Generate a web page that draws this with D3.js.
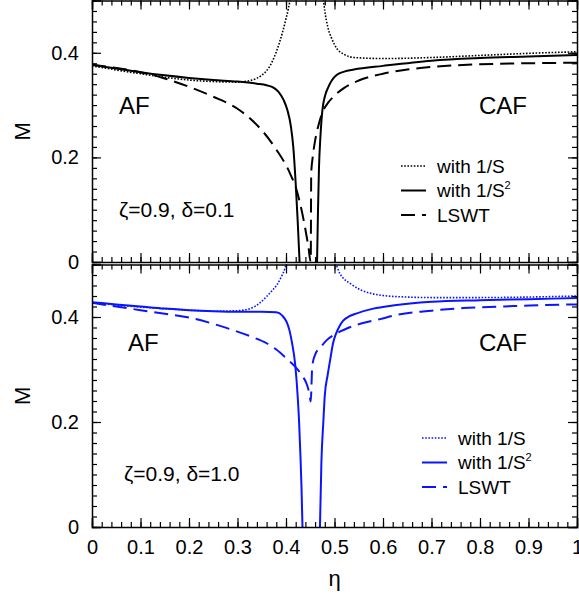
<!DOCTYPE html>
<html>
<head>
<meta charset="utf-8">
<script src="https://cdn.jsdelivr.net/npm/d3@7"></script>
<style>
  body { margin: 0; background: #fff; }
  svg { display: block; font-family: "Liberation Sans", Arial, sans-serif; }
</style>
</head>
<body>
<svg width="579" height="594"></svg>
<script>
// top panel: zeta=0.9, delta=0.1 (black); [eta, M], null = break
const topS1 = [[0,0.375],[0.1,0.36],[0.2,0.348],[0.25,0.345],[0.3,0.344],[0.33,0.348],[0.35,0.357],[0.365,0.372],[0.375,0.39],[0.385,0.415],[0.393,0.44],[0.4,0.465],[0.405,0.485],[0.412,0.52],null,
  [0.475,0.52],[0.48,0.48],[0.486,0.45],[0.494,0.428],[0.505,0.408],[0.52,0.397],[0.54,0.391],[0.6,0.389],[0.7,0.391],[0.8,0.395],[0.9,0.399],[1.0,0.402]];
const topS2 = [[0,0.377],[0.05,0.370],[0.1,0.363],[0.15,0.357],[0.2,0.352],[0.25,0.348],[0.3,0.345],[0.34,0.341],[0.36,0.338],[0.375,0.333],[0.385,0.325],[0.395,0.31],[0.403,0.29],[0.41,0.26],[0.415,0.22],[0.42,0.15],[0.424,0.08],[0.427,0.02],[0.428,0],null,
  [0.464,0],[0.466,0.1],[0.468,0.18],[0.471,0.24],[0.475,0.29],[0.48,0.316],[0.487,0.334],[0.495,0.348],[0.505,0.358],[0.52,0.364],[0.54,0.368],[0.6,0.375],[0.7,0.385],[0.8,0.39],[0.9,0.393],[1.0,0.396]];
const topLswt = [[0,0.377],[0.05,0.371],[0.1,0.363],[0.15,0.351],[0.2,0.335],[0.25,0.316],[0.3,0.293],[0.33,0.271],[0.35,0.252],[0.38,0.215],[0.408,0.17],[0.422,0.137],[0.436,0.082],[0.446,0.03],[0.451,0],
  [0.452,0.17],[0.455,0.2],[0.46,0.232],[0.468,0.265],[0.477,0.29],[0.488,0.306],[0.5,0.318],[0.52,0.333],[0.55,0.347],[0.6,0.36],[0.65,0.368],[0.7,0.373],[0.8,0.378],[0.9,0.38],[1.0,0.381]];

// bottom panel: zeta=0.9, delta=1.0 (blue)
const botS1 = [[0,0.427],[0.1,0.419],[0.2,0.413],[0.25,0.411],[0.3,0.412],[0.326,0.416],[0.345,0.426],[0.36,0.439],[0.372,0.451],[0.381,0.461],[0.39,0.476],[0.398,0.493],[0.404,0.515],null,
  [0.499,0.515],[0.506,0.494],[0.511,0.483],[0.518,0.474],[0.532,0.464],[0.553,0.452],[0.575,0.445],[0.6,0.441],[0.65,0.438],[0.7,0.437],[0.8,0.437],[0.9,0.438],[1.0,0.44]];
const botS2 = [[0,0.428],[0.05,0.424],[0.1,0.42],[0.15,0.416],[0.2,0.413],[0.25,0.411],[0.3,0.41],[0.35,0.41],[0.38,0.409],[0.392,0.403],[0.401,0.391],[0.407,0.375],[0.412,0.353],[0.419,0.309],[0.424,0.25],[0.427,0.2],[0.43,0.13],[0.432,0.074],[0.434,0],null,
  [0.47,0],[0.473,0.124],[0.477,0.2],[0.48,0.251],[0.486,0.29],[0.491,0.318],[0.497,0.35],[0.503,0.368],[0.51,0.382],[0.518,0.393],[0.53,0.401],[0.546,0.407],[0.58,0.416],[0.62,0.422],[0.7,0.429],[0.8,0.432],[0.9,0.434],[1.0,0.436]];
const botLswt = [[0,0.427],[0.05,0.42],[0.1,0.413],[0.15,0.406],[0.2,0.399],[0.25,0.387],[0.291,0.375],[0.33,0.362],[0.36,0.35],[0.38,0.338],[0.401,0.321],[0.425,0.299],[0.435,0.286],[0.442,0.274],[0.448,0.255],[0.451,0.239],
  [0.454,0.305],[0.46,0.328],[0.472,0.343],[0.484,0.356],[0.497,0.365],[0.511,0.372],[0.53,0.38],[0.553,0.387],[0.594,0.396],[0.628,0.404],[0.7,0.412],[0.765,0.417],[0.85,0.42],[0.903,0.422],[1.0,0.424]];

const xTicks = [0, 0.1, 0.2, 0.3, 0.4, 0.5, 0.6, 0.7, 0.8, 0.9, 1];
const yTicks = [0, 0.2, 0.4];
const legendLabels = ["with 1/S", "with 1/S", "LSWT"];

const svg = d3.select("svg");
const x = d3.scaleLinear().domain([0, 1]).range([92, 577]);
const yTop = d3.scaleLinear().domain([0, 0.5]).range([262, 0.5]);
const yBot = d3.scaleLinear().domain([0, 0.5]).range([527, 264.5]);

const styles = [
  { dash: "1.6,1.6", width: 1.6 },
  { dash: null, width: 2 },
  { dash: "14,7", width: 2 }
];

function panel(id, y, series, color, opts) {
  const g = svg.append("g");
  const [y0, y1] = y.range();

  g.append("clipPath").attr("id", id)
    .append("rect").attr("x", x(0)).attr("y", y1).attr("width", x(1) - x(0)).attr("height", y0 - y1);

  const line = d3.line()
    .defined(d => d !== null)
    .x(d => x(d[0]))
    .y(d => y(d[1]))
    .curve(d3.curveMonotoneX);

  series.forEach((s, i) => {
    g.append("path")
      .attr("clip-path", `url(#${id})`)
      .attr("d", line(s))
      .attr("fill", "none")
      .attr("stroke", color)
      .attr("stroke-width", styles[i].width)
      .attr("stroke-dasharray", styles[i].dash);
  });

  // axes, ticks pointing inward on all four sides
  const minorX = d3.range(0, 51).map(i => i / 50);
  const minorY = d3.range(0, 26).map(i => i / 50);
  const axes = [
    [d3.axisBottom(x), `translate(0,${y0})`, minorX, xTicks, opts.xLabels],
    [d3.axisTop(x), `translate(0,${y1})`, minorX, xTicks, false],
    [d3.axisLeft(y), `translate(${x(0)},0)`, minorY, yTicks, true],
    [d3.axisRight(y), `translate(${x(1)},0)`, minorY, yTicks, false]
  ];
  axes.forEach(([ax, tr, minor, major, labels]) => {
    g.append("g").attr("transform", tr)
      .call(ax.tickValues(minor).tickSize(-5).tickFormat(""))
      .call(a => a.select(".domain").remove())
      .selectAll("line").attr("stroke-width", 1.2);
    g.append("g").attr("transform", tr)
      .call(ax.tickValues(major).tickSize(-9).tickPadding(labels ? 13 : 0)
        .tickFormat(labels ? d3.format("~g") : ""))
      .call(a => a.select(".domain").attr("stroke-width", 1.5))
      .call(a => a.selectAll("line").attr("stroke-width", 1.2))
      .call(a => a.selectAll("text").attr("font-size", 20).attr("fill", "#000").attr("font-family", null));
  });

  g.append("text")
    .attr("transform", `translate(22,${(y0 + y1) / 2}) rotate(-90)`)
    .attr("text-anchor", "middle").attr("dy", "0.35em")
    .attr("font-size", 22).text("M");

  g.append("text").attr("x", opts.af[0]).attr("y", opts.af[1]).attr("dy", "0.35em")
    .attr("font-size", 24).text("AF");
  g.append("text").attr("x", 479).attr("y", opts.af[1]).attr("dy", "0.35em")
    .attr("font-size", 24).text("CAF");
  g.append("text").attr("x", opts.note[0]).attr("y", opts.note[1]).attr("dy", "0.35em")
    .attr("font-size", 21).text(opts.noteText);

  // legend
  legendLabels.forEach((lab, i) => {
    const ly = opts.leg[1] + i * 24.5;
    g.append("line")
      .attr("x1", opts.leg[0]).attr("x2", opts.leg[0] + 25)
      .attr("y1", ly).attr("y2", ly)
      .attr("stroke", color)
      .attr("stroke-width", styles[i].width)
      .attr("stroke-dasharray", styles[i].dash);
    const t = g.append("text").attr("x", opts.leg[0] + 36).attr("y", ly).attr("dy", "0.35em")
      .attr("font-size", 19).text(lab);
    if (i === 1) t.append("tspan").attr("font-size", 11).attr("dy", "-0.75em").text("2");
  });
}

panel("clipTop", yTop, [topS1, topS2, topLswt], "#000", {
  xLabels: false, af: [119, 106], note: [119, 210], noteText: "ζ=0.9, δ=0.1", leg: [401, 166]
});
panel("clipBot", yBot, [botS1, botS2, botLswt], "#0a14ff", {
  xLabels: true, af: [128, 343], note: [124, 474], noteText: "ζ=0.9, δ=1.0", leg: [422, 438]
});

svg.append("text")
  .attr("x", x(0.5)).attr("y", 578).attr("dy", "0.35em")
  .attr("text-anchor", "middle").attr("font-size", 22).text("η");
</script>
</body>
</html>
